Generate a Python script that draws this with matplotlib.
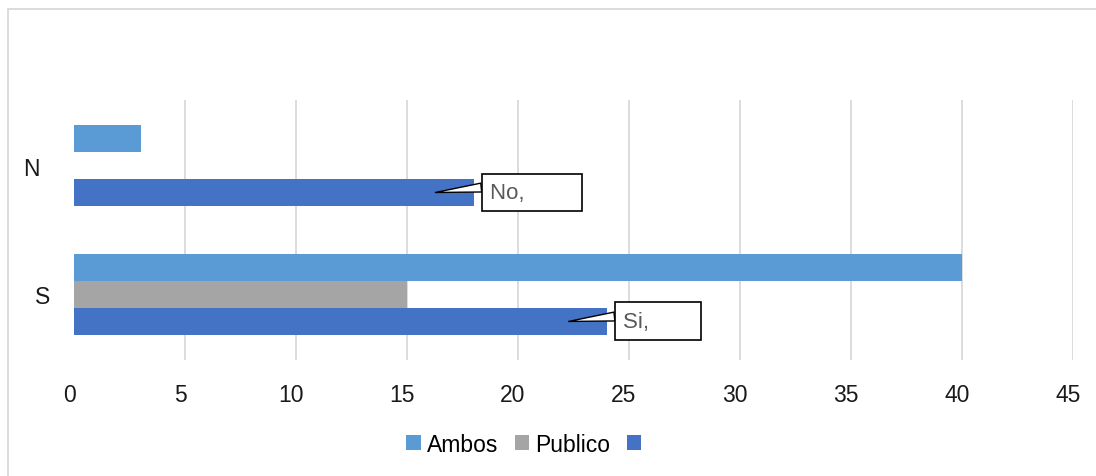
import matplotlib.pyplot as plt
import matplotlib.transforms as mtransforms
import numpy as np
from matplotlib.patches import Rectangle

# Data
categories = ['S', 'N']
ambos = [40, 3]
publico = [15, 0]
tercera = [24, 18]
callout_text = ['Si,', 'No,']

col_ambos = '#5B9BD5'
col_publico = '#A5A5A5'
col_tercera = '#4472C4'

plt.rcParams['font.family'] = ['Liberation Sans', 'DejaVu Sans']

fig = plt.figure(figsize=(10.96, 4.77), dpi=100)
ax = fig.add_axes([74 / 1096, 1 - 361 / 477, (1073 - 74) / 1096, (361 - 101) / 477])

y = np.arange(len(categories))
h = 0.209
b1 = ax.barh(y + h, ambos, height=h, color=col_ambos, label='Ambos', zorder=2)
b2 = ax.barh(y, publico, height=h, color=col_publico, label='Publico', zorder=2)
b3 = ax.barh(y - h, tercera, height=h, color=col_tercera, label=' ', zorder=2)

ax.set_xlim(0, 45)
ax.set_ylim(-0.508, 1.508)
ax.set_xticks(np.arange(0, 50, 5))
ax.set_yticks(y)
ax.set_yticklabels(categories)
ax.tick_params(axis='x', length=0, pad=16.5, labelsize=16.5, labelcolor='#1a1a1a')
ax.tick_params(axis='y', length=0, pad=17, labelsize=16.5, labelcolor='#1a1a1a')
for s in ax.spines.values():
    s.set_visible(False)
ax.xaxis.grid(True, color='#D9D9D9', lw=1.3, zorder=0)
ax.set_axisbelow(True)
ax.get_xgridlines()[0].set_visible(False)

# Excel puts the value labels a bit left of the gridlines
shift = mtransforms.ScaledTranslation(-5 / 100, 0, fig.dpi_scale_trans)
for lab in ax.get_xticklabels():
    lab.set_transform(lab.get_transform() + shift)
# N sits further left than S
ylabs = ax.get_yticklabels()
ylabs[1].set_transform(ylabs[1].get_transform() +
                       mtransforms.ScaledTranslation(-11 / 100, 0, fig.dpi_scale_trans))

# callouts on the dark blue bars
widths = ['       ', '        ']
for i, txt in enumerate(callout_text):
    v = tercera[i]
    ax.annotate(txt + widths[i], xy=(v - 1.72, y[i] - h), xycoords='data',
                xytext=(v + 0.75, y[i] - h), textcoords='data',
                ha='left', va='center', fontsize=16, color='#595959',
                bbox=dict(boxstyle='square,pad=0.38', fc='white', ec='black', lw=1.2),
                arrowprops=dict(arrowstyle='wedge,tail_width=0.4', fc='white', ec='black',
                                lw=1.0, shrinkA=0, shrinkB=0, relpos=(0, 0.78)),
                zorder=5)

ax.legend([b1, b2, b3], ['Ambos', 'Publico', ''], loc='center', ncol=3,
          bbox_to_anchor=(527 / 1096, 1 - 445.5 / 477), bbox_transform=fig.transFigure,
          frameon=False, fontsize=16.5, handlelength=0.63, handleheight=0.63,
          handletextpad=0.27, columnspacing=0.72)

fig.patches.append(Rectangle((8 / 1096, -0.2), 1.2, 1.2 - 10 / 477, transform=fig.transFigure,
                             fill=False, ec='#D9D9D9', lw=1.3))

fig.savefig('out.png', dpi=100)
